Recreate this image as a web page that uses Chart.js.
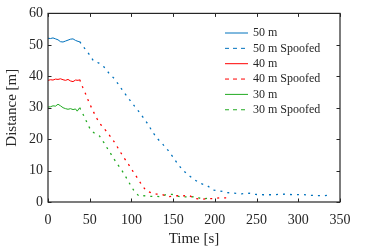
<!DOCTYPE html>
<html><head><meta charset="utf-8">
<script src="https://cdn.jsdelivr.net/npm/chart.js@4"></script>
<style>html,body{margin:0;padding:0;background:#fff}#w{width:374px;height:249px}</style>
</head><body><div id="w"><canvas id="c"></canvas></div>
<script>
const seriesNames = ['50 m','50 m Spoofed','40 m','40 m Spoofed','30 m','30 m Spoofed'];
const xTicks = [0,50,100,150,200,250,300,350];
const yTicks = [0,10,20,30,40,50,60];

const t50 = [0,3,6,9,12,15,18,21,24,27,30,33,36,38];
const d50 = [52.1,52.0,52.2,51.9,51.6,51.0,50.9,51.2,51.5,51.8,51.9,51.4,51.1,51.0];
const t50s = [38,43,49,54.5,61,67,73,80,85,91,97,102.5,108.5,114,120,125,131,137.5,144,149.5,155,161,168,175,182.5,190.5,198,206.5,215,223,232,241,249,258,267,276,285,294,303,312,321,330,339];
const d50s = [51.0,49.2,47.1,44.9,44.2,43.0,41.0,39.1,37.2,34.9,32.8,30.9,28.9,26.9,24.7,22.4,20.2,18.4,16.4,14.4,12.3,10.3,8.6,7.2,5.9,5.3,3.8,3.5,3.0,2.8,2.6,2.8,2.4,2.3,2.3,2.4,2.5,2.3,2.4,2.2,2.0,2.0,2.2];

const t40 = [0,3,6,9,12,15,18,21,24,27,30,33,36,38];
const d40 = [38.7,38.9,38.8,39.1,39.0,39.2,38.9,38.7,39.0,38.5,38.3,38.8,38.7,38.9];
const t40s = [38,41.6,45.6,49,53.7,58.5,63.6,70,75.7,81,86,91,96.5,101.7,107,112,117.6,124,130,136.5,143,150,155,161,169,176,183,190.5,198,207,214];
const d40s = [38.9,36.5,34.1,31.8,29.1,26.6,24.5,22.5,20.5,18.5,16.2,14.1,12.0,9.8,7.7,5.6,3.6,2.9,2.5,2.4,1.7,1.8,2.0,1.9,2.1,1.1,0.9,1.0,1.1,1.4,1.3];

const t30 = [0,3,6,9,12,15,18,21,24,27,30,33,35,38];
const d30 = [30.2,30.3,30.6,30.5,31.1,30.6,30.0,29.7,29.5,29.7,29.4,29.6,28.9,30.0];
const t30s = [38,42,46.5,51,56,61.7,67,72,77,82.5,87.7,93,98,103,109,115,122,129,135,142,149,158,169,177,185,194];
const d30s = [30.0,27.9,25.4,22.9,21.8,21.0,18.9,16.7,14.6,12.3,10.4,8.1,5.8,3.6,1.9,2.0,1.8,1.8,1.7,2.4,2.4,1.7,1.6,1.7,0.9,1.3];

const colors = ['#0072BD','#0072BD','#FF0000','#FF0000','#22AA22','#22AA22'];
const xs = [t50,t50s,t40,t40s,t30,t30s];
const ys = [d50,d50s,d40,d40s,d30,d30s];
const dashed = [false,true,false,true,false,true];

const datasets = seriesNames.map((n,i)=>({
  label:n,
  data: xs[i].map((t,k)=>({x:t,y:ys[i][k]})),
  borderColor: colors[i],
  borderWidth: dashed[i] ? 1.3 : 1,
  borderDash: dashed[i] ? [2,5] : [],
  pointRadius: 0,
  tension: 0,
  fill: false
}));

const FONT = '"Liberation Serif","Times New Roman",serif';
const INK = '#262626';

const framePlugin = {
  id:'frame',
  afterDraw(chart){
    const {ctx, chartArea:a, scales:{x,y}} = chart;
    ctx.save();
    ctx.strokeStyle = INK; ctx.lineWidth = 1.2;
    ctx.strokeRect(a.left, a.top, a.right-a.left, a.bottom-a.top);
    ctx.lineWidth = 1;
    const L = 3.5;
    ctx.beginPath();
    xTicks.forEach(v=>{
      const px = Math.round(x.getPixelForValue(v))+0.5;
      ctx.moveTo(px,a.bottom); ctx.lineTo(px,a.bottom-L);
      ctx.moveTo(px,a.top); ctx.lineTo(px,a.top+L);
    });
    yTicks.forEach(v=>{
      const py = Math.round(y.getPixelForValue(v))+0.5;
      ctx.moveTo(a.left,py); ctx.lineTo(a.left+L,py);
      ctx.moveTo(a.right,py); ctx.lineTo(a.right-L,py);
    });
    ctx.stroke();
    // legend
    const lx0 = 225, lx1 = 248, tx = 253, y0 = 33, dy = 15.35;
    ctx.font = '12px ' + FONT;
    ctx.textBaseline = 'middle';
    ctx.fillStyle = INK;
    chart.data.datasets.forEach((ds,i)=>{
      const yy = y0 + i*dy;
      ctx.strokeStyle = ds.borderColor;
      ctx.lineWidth = 1;
      ctx.setLineDash(ds.borderDash.length ? [4,4] : []);
      ctx.beginPath(); ctx.moveTo(lx0,yy); ctx.lineTo(lx1,yy); ctx.stroke();
      ctx.setLineDash([]);
      ctx.fillText(ds.label, tx, yy);
    });
    ctx.restore();
  }
};

new Chart(document.getElementById('c'), {
  type:'line',
  data:{datasets},
  options:{
    responsive:true, maintainAspectRatio:false, animation:false,
    layout:{padding:{left:0,right:34,top:5,bottom:0}},
    plugins:{legend:{display:false}, tooltip:{enabled:false}},
    scales:{
      x:{type:'linear', min:0, max:350,
        afterBuildTicks(s){ s.ticks = xTicks.map(v=>({value:v})); },
        afterFit(s){ s.height = 47; },
        grid:{display:false, drawTicks:false},
        border:{display:false},
        ticks:{color:INK, font:{family:FONT,size:14}, padding:10, maxRotation:0, autoSkip:false},
        title:{display:true, text:'Time [s]', color:INK, font:{family:FONT,size:15}, padding:{top:0,bottom:1}}
      },
      y:{type:'linear', min:0, max:60,
        afterBuildTicks(s){ s.ticks = yTicks.map(v=>({value:v})); },
        afterFit(s){ s.width = 48; },
        grid:{display:false, drawTicks:false},
        border:{display:false},
        ticks:{color:INK, font:{family:FONT,size:14}, padding:5, autoSkip:false},
        title:{display:true, text:'Distance [m]', color:INK, font:{family:FONT,size:15}, padding:{top:3,bottom:0}}
      }
    }
  },
  plugins:[framePlugin]
});
</script></body></html>
